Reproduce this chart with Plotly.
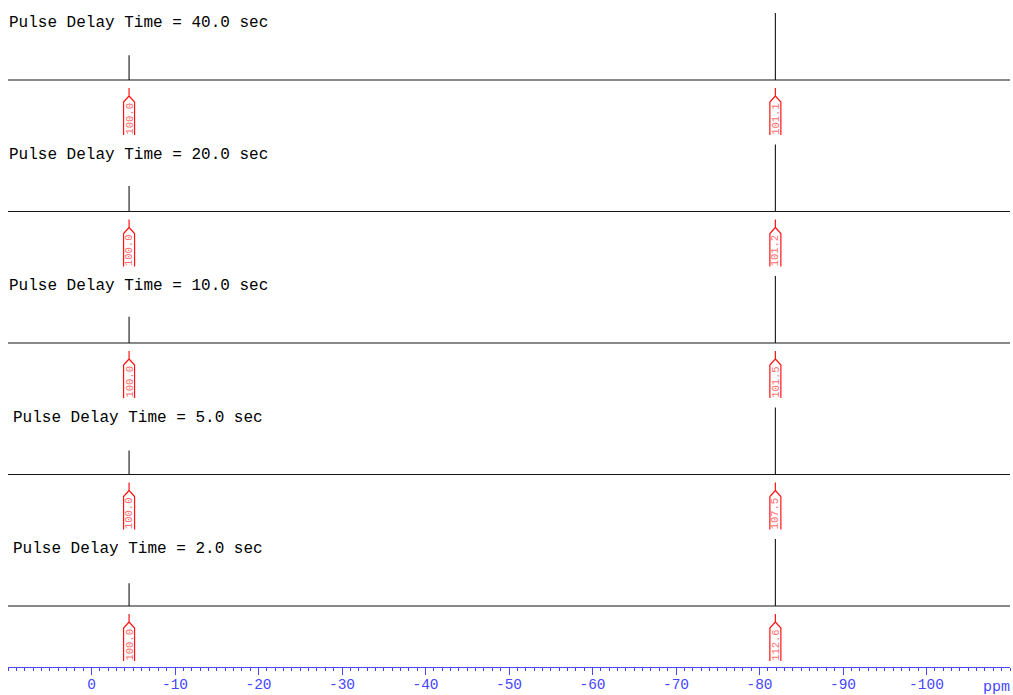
import plotly.graph_objects as go

# Stacked 1D NMR spectra recorded with different relaxation (pulse) delays
delays = ["40.0", "20.0", "10.0", "5.0", "2.0"]
peak_ppm = [-4.5, -81.9]
# relative peak heights (tallest peak of each spectrum = 1)
peak_heights = [
    [0.37, 1.00],
    [0.38, 1.00],
    [0.39, 1.00],
    [0.36, 1.00],
    [0.34, 1.00],
]
# integrals, first peak referenced to 100.0
integrals = [
    ["100.0", "101.1"],
    ["100.0", "101.2"],
    ["100.0", "101.5"],
    ["100.0", "107.5"],
    ["100.0", "112.6"],
]
tick_vals = [0, -10, -20, -30, -40, -50, -60, -70, -80, -90, -100]
tick_labels = ["0", "-10", "-20", "-30", "-40", "-50", "-60", "-70", "-80", "-90", "-100"]

# ---- layout geometry (pixels) ----
W, H = 1013, 695
ML, MR, MT, MB = 8, 3, 0, 28
X_LEFT, X_RIGHT = 10, -110
plot_w = W - ML - MR
plot_h = H - MT - MB
px_per_ppm = plot_w / (X_LEFT - X_RIGHT)

ROW0 = 80          # baseline of the first spectrum (px from top)
ROW_STEP = 131.5   # vertical spacing between spectra
PEAK_PX = 67       # full-scale peak height in px
TITLE_UP = 57      # title centre above baseline
TITLE_X = 138      # title centre (px)

MONO = "Courier New, Liberation Mono, monospace"
BLUE = "rgb(70,70,255)"
RED = "rgb(255,20,20)"
RED_TXT = "rgb(255,110,110)"

fig = go.Figure()
shapes = []
annotations = []

for i, (delay, hts, ints) in enumerate(zip(delays, peak_heights, integrals)):
    base = ROW0 + ROW_STEP * i
    xs = [X_LEFT]
    ys = [base]
    for p, h in zip(peak_ppm, hts):
        xs += [p, p, p]
        ys += [base, base - h * PEAK_PX, base]
    xs.append(X_RIGHT)
    ys.append(base)
    fig.add_trace(go.Scatter(
        x=xs, y=ys, mode="lines",
        line=dict(color="rgb(20,20,20)", width=1.1),
        hoverinfo="skip", showlegend=False,
    ))

    annotations.append(dict(
        text=f"Pulse Delay Time = {delay} sec",
        xref="paper", x=(TITLE_X - ML) / plot_w, xanchor="center",
        yref="y", y=base - TITLE_UP, yanchor="middle",
        showarrow=False, font=dict(family=MONO, size=16, color="black"),
    ))

    # integral markers below each peak
    hw = 5.5 / px_per_ppm
    for p, val in zip(peak_ppm, ints):
        y_a, y_b, y_c, y_d = base + 8, base + 16, base + 22, base + 55
        path = (f"M {p},{y_a} L {p},{y_b} "
                f"M {p - hw},{y_d} L {p - hw},{y_c} L {p},{y_b} L {p + hw},{y_c} L {p + hw},{y_d}")
        shapes.append(dict(type="path", xref="x", yref="y", path=path,
                           line=dict(color=RED, width=1.2)))
        annotations.append(dict(
            text=val, xref="x", x=p, yref="y", y=base + 38.5,
            textangle=-90, showarrow=False,
            font=dict(family=MONO, size=10.5, color=RED_TXT),
        ))

annotations.append(dict(
    text="ppm", xref="paper", x=(996 - ML) / plot_w, xanchor="center",
    yref="paper", y=0, yanchor="middle", yshift=-20,
    showarrow=False, font=dict(family=MONO, size=15, color=BLUE),
))

fig.update_layout(
    width=W, height=H,
    margin=dict(l=ML, r=MR, t=MT, b=MB, pad=0),
    paper_bgcolor="white", plot_bgcolor="white",
    shapes=shapes, annotations=annotations,
    xaxis=dict(
        range=[X_LEFT, X_RIGHT], showgrid=False, zeroline=False,
        automargin=False,
        showline=True, linecolor=BLUE, linewidth=1,
        tickmode="array", tickvals=tick_vals, ticktext=tick_labels,
        ticks="outside", ticklen=7, tickwidth=1, tickcolor=BLUE,
        ticklabelstandoff=-3,
        tickfont=dict(family=MONO, size=14.5, color=BLUE),
        minor=dict(tickmode="linear", tick0=0, dtick=1, ticks="outside",
                   ticklen=3, tickwidth=1, tickcolor=BLUE),
    ),
    yaxis=dict(range=[plot_h, 0], visible=False, showgrid=False,
               zeroline=False, automargin=False),
)

fig.write_html("out.html")
